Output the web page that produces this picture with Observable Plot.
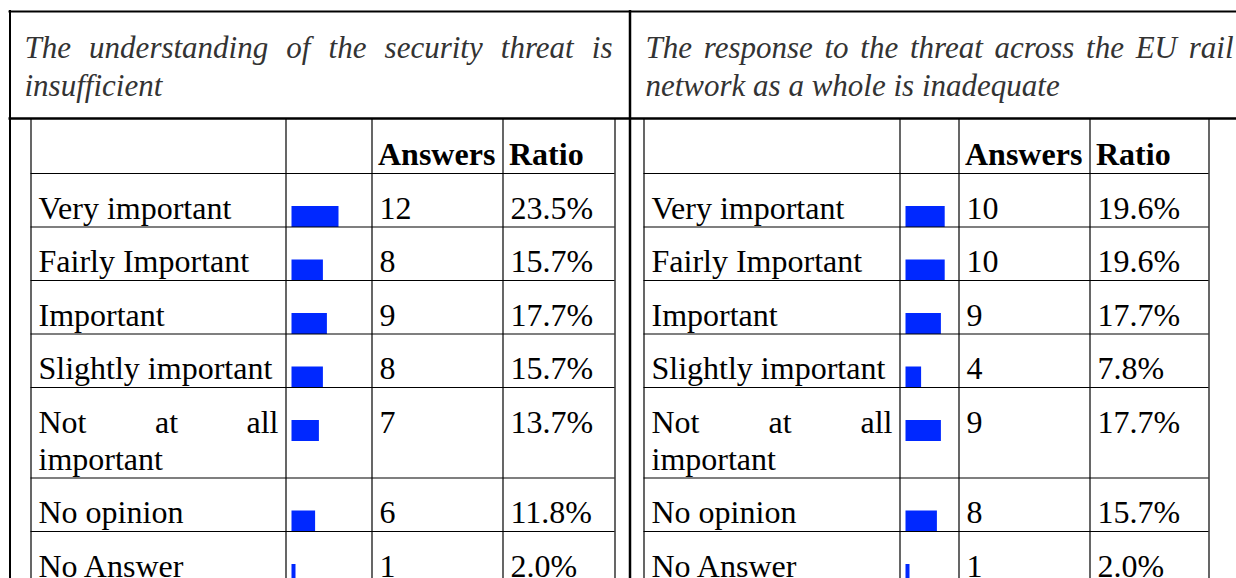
<!DOCTYPE html>
<html>
<head>
<meta charset="utf-8">
<script src="https://cdn.jsdelivr.net/npm/d3@7"></script>
<script src="https://cdn.jsdelivr.net/npm/@observablehq/plot@0.6"></script>
<style>
  html, body { margin: 0; padding: 0; background: #fff; overflow: hidden; }
</style>
</head>
<body>
<div id="chart"></div>
<script>
// ---------------- DATA ----------------
const categories = ["Very important", "Fairly Important", "Important", "Slightly important", "Not at all important", "No opinion", "No Answer"];
const columnHeaders = ["", "", "Answers", "Ratio"];

const titleLeft = "The understanding of the security threat is insufficient";
const answersLeft = [12, 8, 9, 8, 7, 6, 1];
const ratioLeft = [23.5, 15.7, 17.7, 15.7, 13.7, 11.8, 2.0];

const titleRight = "The response to the threat across the EU rail network as a whole is inadequate";
const answersRight = [10, 10, 9, 4, 9, 8, 1];
const ratioRight = [19.6, 19.6, 17.7, 7.8, 17.7, 15.7, 2.0];

// ---------------- LAYOUT ----------------
const W = 1236, H = 578;
const FONT = "Liberation Serif";
const FS = 32, TITLE_FS = 31;
const LINE = 37, TITLE_LINE = 38;
const ROW_PAD = 16.5;
const THICK = 2.5, THIN = 1.2;
const pad = 7.5, headPad = 6, barPad = 6, pxPerPct = 2;
const frame = {left: 9.5, top: 11, mid: 629.5, header: 118, headerRowBottom: 173, right: W + 20};
const titleWidth = 588, titleBaseline = 57, headBaseline = 164, bodyBaselineOffset = 45;
const panels = [
  {title: titleLeft, answers: answersLeft, ratio: ratioLeft, titleX: 24, cols: [30.5, 285.5, 371.5, 502.5, 614.5]},
  {title: titleRight, answers: answersRight, ratio: ratioRight, titleX: 645, cols: [643.5, 899.5, 958.5, 1089.5, 1208.5]}
];

const ctx = document.createElement("canvas").getContext("2d");
function wrap(text, font, maxW) {
  ctx.font = font;
  const words = text.split(" ");
  const lines = [];
  let cur = "";
  for (const w of words) {
    const t = cur ? cur + " " + w : w;
    if (cur && ctx.measureText(t).width > maxW) { lines.push(cur); cur = w; }
    else cur = t;
  }
  lines.push(cur);
  return lines;
}
// justified paragraph layout: returns single-line pieces (words on justified lines)
function paragraph(text, font, fs, x0, baseline0, maxW, wrapW, step) {
  const lines = wrap(text, font, wrapW);
  const out = [];
  ctx.font = font;
  lines.forEach((line, i) => {
    const y = baseline0 + i * step - 0.71 * fs;
    const words = line.split(" ");
    if (i < lines.length - 1 && words.length > 1) {
      const widths = words.map(w => ctx.measureText(w).width);
      const gap = (maxW - d3.sum(widths)) / (words.length - 1);
      let x = x0;
      words.forEach((w, k) => { out.push({x, y, text: w}); x += widths[k] + gap; });
    } else {
      out.push({x: x0, y, text: line});
    }
  });
  return {pieces: out, lines: lines.length};
}

const vRules = [], hRules = [], bars = [], titles = [], heads = [], cells = [];
vRules.push({x: frame.left, y1: frame.top - 1, y2: H + 5, w: 2});
vRules.push({x: frame.mid, y1: frame.top - 1, y2: H + 5, w: THICK});
hRules.push({y: frame.top, x1: frame.left - 1, x2: frame.right, w: 2});
hRules.push({y: frame.header, x1: frame.left - 1, x2: frame.right, w: THICK});

const bodyFont = `${FS}px "${FONT}"`;
const titleFont = `italic ${TITLE_FS}px "${FONT}"`;

for (const p of panels) {
  const c = p.cols;
  titles.push(...paragraph(p.title, titleFont, TITLE_FS, p.titleX, titleBaseline, titleWidth, titleWidth, TITLE_LINE).pieces);
  for (const cx of c) vRules.push({x: cx, y1: frame.header, y2: H + 5, w: THIN});
  columnHeaders.forEach((h, i) => {
    if (h) heads.push({x: c[i] + headPad, y: headBaseline - 0.71 * FS, text: h});
  });
  hRules.push({y: frame.headerRowBottom, x1: c[0], x2: c[4], w: THIN});
  let top = frame.headerRowBottom;
  categories.forEach((cat, i) => {
    const labelW = c[1] - c[0] - 2 * pad;
    const base = top + bodyBaselineOffset;
    const para = paragraph(cat, bodyFont, FS, c[0] + pad, base, labelW, labelW + 6, LINE);
    cells.push(...para.pieces);
    cells.push({x: c[2] + pad, y: base - 0.71 * FS, text: String(p.answers[i])});
    cells.push({x: c[3] + pad, y: base - 0.71 * FS, text: p.ratio[i].toFixed(1) + "%"});
    bars.push({x1: c[1] + barPad, x2: c[1] + barPad + p.ratio[i] * pxPerPct, y1: top + 33, y2: top + 54});
    top += ROW_PAD + LINE * para.lines;
    hRules.push({y: top, x1: c[0], x2: c[4], w: THIN});
  });
}

const chart = Plot.plot({
  width: W,
  height: H,
  margin: 0,
  x: {type: "identity", axis: null},
  y: {type: "identity", axis: null},
  style: {background: "#fff", fontFamily: FONT},
  marks: [
    Plot.rect(bars, {x1: "x1", x2: "x2", y1: "y1", y2: "y2", fill: "#0028ff"}),
    Plot.ruleX(vRules, {x: "x", y1: "y1", y2: "y2", strokeWidth: "w", stroke: "#000", strokeOpacity: 1}),
    Plot.ruleY(hRules, {y: "y", x1: "x1", x2: "x2", strokeWidth: "w", stroke: "#000", strokeOpacity: 1}),
    Plot.text(titles, {x: "x", y: "y", text: "text", textAnchor: "start", lineAnchor: "top", fontSize: TITLE_FS, fontStyle: "italic", fontFamily: FONT, fill: "#333"}),
    Plot.text(heads, {x: "x", y: "y", text: "text", textAnchor: "start", lineAnchor: "top", fontSize: FS, fontWeight: "bold", fontFamily: FONT, fill: "#000"}),
    Plot.text(cells, {x: "x", y: "y", text: "text", textAnchor: "start", lineAnchor: "top", fontSize: FS, fontFamily: FONT, fill: "#000"})
  ]
});
document.getElementById("chart").appendChild(chart);
</script>
</body>
</html>
